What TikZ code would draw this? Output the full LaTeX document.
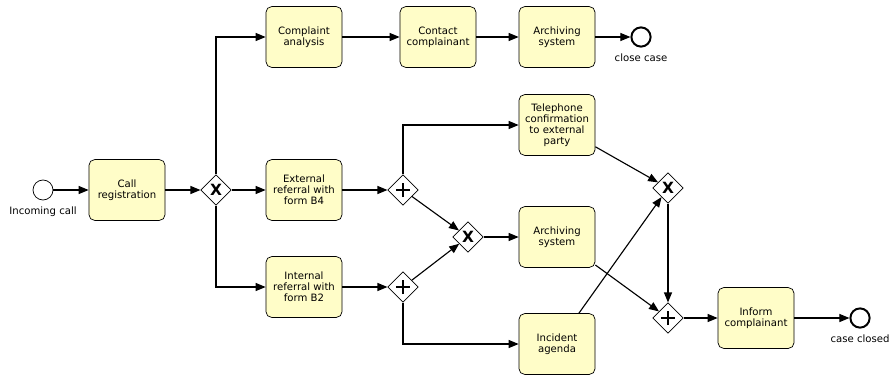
\documentclass[tikz,border=0pt]{standalone}
\usepackage{fontspec}
\setmainfont{DejaVu Sans}
\usepackage{tikz}
\usetikzlibrary{arrows.meta,positioning,shapes.geometric}

\definecolor{taskfill}{RGB}{255,253,200}

\begin{document}
\begin{tikzpicture}[
  x=0.025cm, y=-0.025cm,
  font=\fontsize{7.2}{7.9}\selectfont,
  task/.style={draw, rounded corners=4pt, align=center, fill=taskfill, minimum width=1.9cm, minimum height=1.52cm, inner sep=1pt, line width=0.5pt},
  gateway/.style={draw, diamond, fill=white, inner sep=0pt, minimum size=0.76cm, line width=0.5pt},
  xgate/.style={gateway, font=\fontsize{11}{11}\selectfont\bfseries},
  pgate/.style={gateway, path picture={
      \draw[line width=1.4pt] ([xshift=-1.8mm]path picture bounding box.center) -- ([xshift=1.8mm]path picture bounding box.center);
      \draw[line width=1.4pt] ([yshift=-1.8mm]path picture bounding box.center) -- ([yshift=1.8mm]path picture bounding box.center);}},
  startev/.style={draw, circle, fill=white, minimum size=0.5cm, inner sep=0pt, line width=0.5pt},
  endev/.style={draw, circle, fill=white, minimum size=0.48cm, inner sep=0pt, line width=1.4pt},
  arrow/.style={-{Triangle[length=2.5mm,width=2mm]}, line width=0.8pt}
]
\useasboundingbox (0,0) rectangle (891,375);

% start
\node[startev, label={[label distance=1pt]below:Incoming call}] (start) at (43,190) {};
\node[task] (callreg) at (127,190) {Call\\registration};
\node[xgate] (split) at (216,190) {X};

% complaint branch
\node[task] (analysis) at (304,37) {Complaint\\analysis};
\node[task] (contact) at (438,37) {Contact\\complainant};
\node[task] (archtop) at (557,37) {Archiving\\system};
\node[endev, label={[label distance=1pt]below:close case}] (closecase) at (641,37) {};

% referral branches
\node[task] (extref) at (304,190) {External\\referral with\\form B4};
\node[task] (intref) at (304,287) {Internal\\referral with\\form B2};
\node[pgate] (fork1) at (403,190) {};
\node[pgate] (fork2) at (403,287) {};
\node[xgate] (merge1) at (468,237) {X};

\node[task] (phone) at (557,125) {Telephone\\confirmation\\to external\\party};
\node[task] (archmid) at (557,237) {Archiving\\system};
\node[task] (incident) at (557,344) {Incident\\agenda};

\node[xgate] (merge2) at (668,188) {X};
\node[pgate] (join) at (668,318) {};
\node[task] (inform) at (756,318) {Inform\\complainant};
\node[endev, label={[label distance=1pt]below:case closed}] (closed) at (860,318) {};

\draw[arrow] (start) -- (callreg);
\draw[arrow] (callreg) -- (split);
\draw[arrow] (split) |- (analysis);
\draw[arrow] (split) -- (extref);
\draw[arrow] (split) |- (intref);

\draw[arrow] (analysis) -- (contact);
\draw[arrow] (contact) -- (archtop);
\draw[arrow] (archtop) -- (closecase);

\draw[arrow] (extref) -- (fork1);
\draw[arrow] (intref) -- (fork2);
\draw[arrow] (fork1) |- (phone);
\draw[arrow] (fork1) -- (merge1);
\draw[arrow] (fork2) -- (merge1);
\draw[arrow] (fork2) |- (incident);
\draw[arrow] (merge1) -- (archmid);

\draw[arrow] (phone) -- (merge2);
\draw[arrow] (incident) -- (merge2);
\draw[arrow] (archmid) -- (join);
\draw[arrow] (merge2) -- (join);
\draw[arrow] (join) -- (inform);
\draw[arrow] (inform) -- (closed);
\end{tikzpicture}
\end{document}
